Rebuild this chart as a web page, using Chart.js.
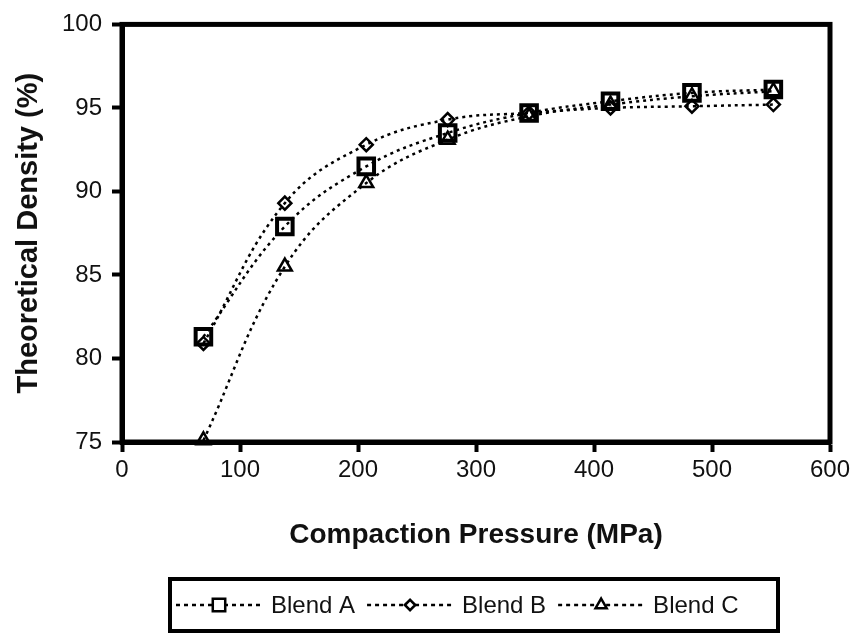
<!DOCTYPE html>
<html><head><meta charset="utf-8">
<script src="https://cdn.jsdelivr.net/npm/chart.js@4/dist/chart.umd.min.js"></script>
<style>html,body{margin:0;padding:0;background:#fff;}#wrap{width:860px;height:634px;position:relative;}</style>
</head><body><div id="wrap"><canvas id="c" width="860" height="634"></canvas></div>
<script>
const pressures = [69, 138, 207, 276, 345, 414, 483, 552];
const blendA = [81.3, 87.9, 91.5, 93.5, 94.7, 95.4, 95.9, 96.1];
const blendB = [80.9, 89.3, 92.8, 94.3, 94.7, 95.0, 95.1, 95.2];
const blendC = [75.1, 85.5, 90.5, 93.1, 94.5, 95.2, 95.7, 96.0];
const seriesLabels = ['Blend A', 'Blend B', 'Blend C'];
const xTicks = [0, 100, 200, 300, 400, 500, 600];
const yTicks = [75, 80, 85, 90, 95, 100];

const SANS = "'Liberation Sans', Arial, sans-serif";

function pts(vals) { return pressures.map((x, i) => ({x: x, y: vals[i]})); }

const styleA = {pointStyle: 'rect', pointRadius: 11, pointBorderWidth: 4};
const styleB = {pointStyle: 'rectRot', pointRadius: 6.5, pointBorderWidth: 2.5};
const styleC = {pointStyle: 'triangle', pointRadius: 8, pointBorderWidth: 2.5};

function ds(label, vals, st) {
  return Object.assign({
    label: label, data: pts(vals),
    borderColor: '#000', backgroundColor: 'rgba(255,255,255,0)',
    pointBorderColor: '#000', pointBackgroundColor: 'rgba(255,255,255,0)',
    borderWidth: 2.5, borderDash: [3, 4], tension: 0.4, clip: false, fill: false
  }, st);
}

const frame = {
  id: 'frame',
  beforeDatasetsDraw(chart) {
    const a = chart.chartArea, ctx = chart.ctx;
    ctx.save(); ctx.lineWidth = 5; ctx.strokeStyle = '#000';
    ctx.strokeRect(a.left, a.top, a.right - a.left, a.bottom - a.top);
    ctx.restore();
  }
};

const boxLegend = {
  id: 'boxLegend',
  afterDraw(chart) {
    const ctx = chart.ctx;
    const box = {l: 170, t: 579, r: 778, b: 631};
    ctx.save();
    ctx.lineWidth = 4; ctx.strokeStyle = '#000';
    ctx.strokeRect(box.l, box.t, box.r - box.l, box.b - box.t);
    ctx.font = '24px ' + SANS;
    const sample = 86, gap = 9, itemGap = 12;
    const items = chart.data.datasets.map(d => ({d: d, w: ctx.measureText(d.label).width}));
    let x = box.l + 6;
    const y = (box.t + box.b) / 2;
    items.forEach(it => {
      ctx.strokeStyle = '#000'; ctx.lineWidth = 2.5; ctx.setLineDash([4, 4]);
      ctx.beginPath(); ctx.moveTo(x, y); ctx.lineTo(x + sample, y); ctx.stroke();
      ctx.setLineDash([]);
      ctx.fillStyle = '#fff'; ctx.strokeStyle = '#000';
      Chart.helpers.drawPoint(ctx, {pointStyle: it.d.pointStyle, radius: it.d.pointRadius * 0.8, borderWidth: it.d.pointBorderWidth * 0.9, rotation: 0}, x + sample / 2, y);
      ctx.fillStyle = '#111'; ctx.textBaseline = 'middle'; ctx.textAlign = 'left';
      ctx.fillText(it.d.label, x + sample + gap, y + 1);
      x += sample + gap + it.w + itemGap;
    });
    ctx.restore();
  }
};

new Chart(document.getElementById('c'), {
  type: 'line',
  data: {
    datasets: [
      ds(seriesLabels[0], blendA, styleA),
      ds(seriesLabels[1], blendB, styleB),
      ds(seriesLabels[2], blendC, styleC)
    ]
  },
  options: {
    responsive: false, animation: false,
    layout: {padding: {top: 20, right: 30, bottom: 82, left: 0}},
    plugins: {legend: {display: false}, tooltip: {enabled: false}},
    scales: {
      x: {
        type: 'linear', min: 0, max: 600,
        afterBuildTicks: s => { s.ticks = xTicks.map(v => ({value: v})); },
        afterFit: s => { s.height = 110; },
        grid: {display: true, drawOnChartArea: false, drawTicks: true, tickLength: 10, tickWidth: 4, tickColor: '#000'},
        border: {display: true, color: '#000', width: 5},
        ticks: {color: '#111', font: {family: SANS, size: 24}, padding: 4, maxRotation: 0, autoSkip: false},
        title: {display: true, text: 'Compaction Pressure (MPa)', color: '#111',
          font: {family: SANS, size: 28, weight: 'bold'}, padding: {top: 0, bottom: 0}}
      },
      y: {
        type: 'linear', min: 75, max: 100,
        afterBuildTicks: s => { s.ticks = yTicks.map(v => ({value: v})); },
        afterFit: s => { s.width = 122; },
        grid: {display: true, drawOnChartArea: false, drawTicks: true, tickLength: 10, tickWidth: 4, tickColor: '#000'},
        border: {display: true, color: '#000', width: 5},
        ticks: {color: '#111', font: {family: SANS, size: 24}, padding: 10, autoSkip: false},
        title: {display: true, text: 'Theoretical Density (%)', color: '#111',
          font: {family: SANS, size: 29, weight: 'bold'}, padding: {top: 12, bottom: 0}}
      }
    }
  },
  plugins: [frame, boxLegend]
});
</script></body></html>
